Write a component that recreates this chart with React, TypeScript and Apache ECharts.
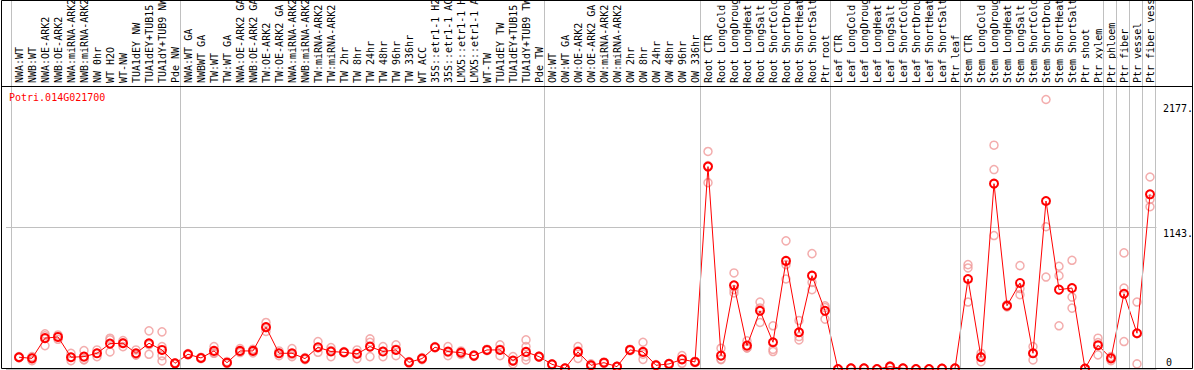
import React, { useEffect, useRef } from "react";
import * as echarts from "echarts";

const geneId = "Potri.014G021700";

const categories = [
  "NWA:WT", "NWB:WT", "NWA:OE-ARK2", "NWB:OE-ARK2", "NWA:miRNA-ARK2", "NWB:miRNA-ARK2",
  "NW 0hr", "WT H2O", "WT-NW", "TUA1dEY NW", "TUA1dEY+TUB15", "TUA1dY+TUB9 NW", "Pde NW",
  "NWA:WT GA", "NWBWT GA", "TW:WT", "TW:WT GA", "NWA:OE-ARK2 GA", "NWB:OE-ARK2 GA",
  "TW:OE-ARK2", "TW:OE-ARK2 GA", "NWA:miRNA-ARK2", "NWB:miRNA-ARK2", "TW:miRNA-ARK2",
  "TW:miRNA-ARK2", "TW 2hr", "TW 8hr", "TW 24hr", "TW 48hr", "TW 96hr", "TW 336hr", "WT ACC",
  "35S::etr1-1 H2O", "35S::etr1-1 ACC", "LMX5::etr1-1 H2O", "LMX5::etr1-1 ACC", "WT-TW",
  "TUA1dEY TW", "TUA1dEY+TUB15", "TUA1dY+TUB9 TW", "Pde TW",
  "OW:WT", "OW:WT GA", "OW:OE-ARK2", "OW:OE-ARK2 GA", "OW:miRNA-ARK2", "OW:miRNA-ARK2",
  "OW 2hr", "OW 8hr", "OW 24hr", "OW 48hr", "OW 96hr", "OW 336hr",
  "Root CTR", "Root LongCold", "Root LongDrought", "Root LongHeat", "Root LongSalt",
  "Root ShortCold", "Root ShortDrought", "Root ShortHeat", "Root ShortSalt", "Ptr root",
  "Leaf CTR", "Leaf LongCold", "Leaf LongDrought", "Leaf LongHeat", "Leaf LongSalt",
  "Leaf ShortCold", "Leaf ShortDrought", "Leaf ShortHeat", "Leaf ShortSalt", "Ptr leaf",
  "Stem CTR", "Stem LongCold", "Stem LongDrought", "Stem LongHeat", "Stem LongSalt",
  "Stem ShortCold", "Stem ShortDrought", "Stem ShortHeat", "Stem ShortSalt", "Ptr shoot",
  "Ptr xylem", "Ptr phloem", "Ptr fiber", "Ptr vessel", "Ptr fiber vessel",
];

const means = [
  95, 86, 249, 259, 95, 100, 127, 205, 208, 127, 208, 154, 46,
  119, 89, 146, 51, 146, 146, 338, 127, 127, 84, 176, 141, 135, 122, 181, 141, 154,
  54, 84, 176, 141, 132, 108, 154, 154, 68, 138, 100,
  38, 5, 138, 30, 51, 19, 154, 138, 30, 41, 78, 57,
  1635, 108, 676, 189, 470, 216, 873, 297, 754, 470,
  0, 5, 5, 0, 19, 5, 0, 0, 3, 5,
  727, 95, 1497, 511, 695, 127, 1357, 641, 654, 3,
  192, 86, 608, 289, 1411,
];

const replicates = [
  [95, 90, 100], [100, 68, 90], [284, 268, 189], [259, 240, 275], [127, 68, 95],
  [149, 78, 73], [154, 100, 127], [249, 235, 138], [230, 181, 212], [154, 114, 113],
  [308, 119, 197], [300, 181, 108, 65], [46, 50, 42],
  [119, 125, 113], [89, 95, 84], [181, 127, 130], [51, 60, 43], [165, 140, 133],
  [160, 130, 148], [376, 303, 335], [146, 108, 127], [165, 100, 116], [84, 92, 76],
  [222, 135, 171], [173, 100, 150], [135, 140, 130], [154, 84, 128], [243, 216, 100],
  [181, 100, 142], [195, 108, 159], [54, 60, 48], [84, 92, 76], [176, 181, 171],
  [181, 108, 134], [132, 118, 146], [108, 114, 102], [154, 160, 148], [195, 108, 159],
  [100, 41, 63], [235, 181, 100, 73], [100, 105, 95],
  [38, 41, 35], [5, 3, 7], [181, 86, 147], [41, 30, 19], [51, 57, 45], [19, 22, 16],
  [154, 160, 148], [216, 78, 120], [30, 35, 25], [41, 44, 38], [108, 46, 80], [57, 62, 52],
  [1757, 1505, 1643], [168, 80, 76], [776, 641, 614], [227, 170, 170], [541, 376, 493],
  [349, 159, 141], [1035, 843, 727], [392, 262, 235], [932, 700, 641], [511, 403, 496],
  [0, 0, 0], [5, 3, 7], [5, 3, 7], [0, 0, 0], [25, 19, 13], [8, 5, 2], [0, 0, 0],
  [0, 0, 0], [3, 5, 1], [5, 3, 7],
  [843, 816, 541], [127, 59, 100], [1808, 1611, 1078], [511, 520, 502], [835, 600, 650],
  [181, 73, 127], [2177, 1149, 743], [830, 754, 349], [878, 581, 492], [3, 5, 1],
  [249, 114, 213], [100, 68, 90], [938, 654, 222], [541, 41, 285], [1551, 1370, 1311],
];

// indices of the last category in each group (-1 = before the first)
const groupEnds = [-1, 12, 40, 52, 62, 72, 83, 84, 85, 86, 87];

const yMax = 2286;
const yTickLabels = ["2177.", "1143.", "0"];

const MONO = '"DejaVu Sans Mono", monospace';

export default function App() {
  const ref = useRef<HTMLDivElement>(null);

  useEffect(() => {
    if (!ref.current) return;
    const chart = echarts.init(ref.current, null, { renderer: "svg" });

    const sepData = groupEnds.map((g) => ({ xAxis: g + 0.4 }));
    const sepMarkLine = {
      symbol: "none",
      silent: true,
      label: { show: false },
      lineStyle: { color: "#c0c0c0", type: "solid", width: 1 },
      data: sepData,
    };

    const repPoints: number[][] = [];
    replicates.forEach((arr, i) => arr.forEach((v) => repPoints.push([i, v])));
    const meanPoints = means.map((v, i) => [i, v]);

    const option = {
      animation: false,
      backgroundColor: "#ffffff",
      grid: [
        { left: 6, width: 1150.5, top: 0, height: 86, containLabel: false, outerBoundsMode: "none" },
        { left: 6, width: 1150.5, top: 86, height: 283, containLabel: false, outerBoundsMode: "none" },
      ],
      xAxis: [
        { gridIndex: 0, type: "value", min: -1, max: 87.5, show: false },
        {
          gridIndex: 1,
          type: "value",
          min: -1,
          max: 87.5,
          interval: 1,
          position: "top",
          axisLine: { show: false, onZero: false },
          axisTick: { show: false },
          splitLine: { show: false },
          axisLabel: {
            rotate: -90,
            margin: 3,
            align: "left",
            verticalAlign: "middle",
            color: "#000",
            fontFamily: MONO,
            fontSize: 10,
            hideOverlap: false,
            formatter: (v: number) =>
              Number.isInteger(v) && v >= 0 && v < categories.length ? categories[v] : "",
          },
        },
      ],
      yAxis: [
        { gridIndex: 0, type: "value", min: 0, max: 1, show: false },
        {
          gridIndex: 1,
          type: "value",
          min: 0,
          max: yMax,
          interval: yMax / 2,
          axisLine: { show: false },
          axisTick: { show: false },
          axisLabel: { show: false },
          splitLine: { show: true, lineStyle: { color: "#c0c0c0", width: 1 } },
        },
      ],
      series: [
        {
          type: "line",
          xAxisIndex: 0,
          yAxisIndex: 0,
          data: [],
          markLine: sepMarkLine,
          z: 1,
        },
        {
          type: "line",
          xAxisIndex: 1,
          yAxisIndex: 1,
          data: [],
          markLine: sepMarkLine,
          z: 1,
        },
        {
          type: "scatter",
          xAxisIndex: 1,
          yAxisIndex: 1,
          data: repPoints,
          symbol: "circle",
          symbolSize: 8,
          itemStyle: { color: "rgba(0,0,0,0)", borderColor: "#f09898", borderWidth: 1.5 },
          z: 3,
          clip: false,
        },
        {
          type: "line",
          xAxisIndex: 1,
          yAxisIndex: 1,
          data: meanPoints,
          symbol: "circle",
          symbolSize: 8,
          showAllSymbol: true,
          itemStyle: { color: "rgba(0,0,0,0)", borderColor: "#ff0000", borderWidth: 2 },
          lineStyle: { color: "#ff0000", width: 1 },
          z: 4,
          clip: false,
        },
      ],
      graphic: [
        {
          type: "rect",
          z: 100,
          silent: true,
          shape: { x: 1.5, y: 0.5, width: 1191, height: 368 },
          style: { fill: "none", stroke: "#000", lineWidth: 1 },
        },
        {
          type: "line",
          z: 100,
          silent: true,
          shape: { x1: 1, y1: 86.5, x2: 1193, y2: 86.5 },
          style: { stroke: "#000", lineWidth: 1 },
        },
        {
          type: "text",
          z: 100,
          x: 9,
          y: 97,
          style: {
            text: geneId,
            fill: "#ff0000",
            font: `10px ${MONO}`,
            textAlign: "left",
            textVerticalAlign: "middle",
          },
        },
        {
          type: "text",
          z: 100,
          x: 1163,
          y: 108,
          style: { text: yTickLabels[0], fill: "#000", font: `10px ${MONO}`, textVerticalAlign: "middle" },
        },
        {
          type: "text",
          z: 100,
          x: 1163,
          y: 233,
          style: { text: yTickLabels[1], fill: "#000", font: `10px ${MONO}`, textVerticalAlign: "middle" },
        },
        {
          type: "text",
          z: 100,
          x: 1166,
          y: 362,
          style: { text: yTickLabels[2], fill: "#000", font: `10px ${MONO}`, textVerticalAlign: "middle" },
        },
      ],
    };

    chart.setOption(option as any);
    return () => chart.dispose();
  }, []);

  return (
    <div
      ref={ref}
      style={{ position: "fixed", left: 0, top: 0, width: 1194, height: 370, background: "#fff" }}
    />
  );
}
